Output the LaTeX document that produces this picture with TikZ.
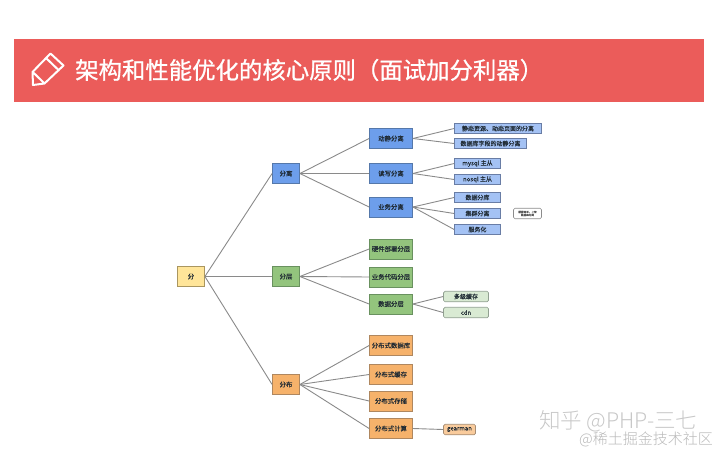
\documentclass[tikz,border=0pt]{standalone}
\usepackage{fontspec}
\setmainfont{Noto Sans CJK SC}[FakeBold=0.1]
\newfontfamily\titlefont[FakeBold=0.9]{Noto Sans CJK SC}
\newfontfamily\wmfont{Noto Sans CJK SC Light}
\definecolor{banner}{HTML}{EB5C5A}
\definecolor{txt}{HTML}{1F2A33}
\definecolor{edgec}{HTML}{8A8A8A}
\tikzset{
  box/.style={draw,line width=0.8pt,inner sep=0pt,text=txt,font=\fontsize{6.4}{7}\selectfont,minimum height=20pt},
  root/.style={box,fill={rgb,255:red,255;green,229;blue,153},draw={rgb,255:red,170;green,150;blue,95},minimum width=27pt},
  blueb/.style={box,fill={rgb,255:red,109;green,158;blue,235},draw={rgb,255:red,85;green,120;blue,170}},
  greenb/.style={box,fill={rgb,255:red,147;green,196;blue,125},draw={rgb,255:red,105;green,145;blue,95}},
  orangeb/.style={box,fill={rgb,255:red,246;green,178;blue,107},draw={rgb,255:red,175;green,135;blue,95}},
  second/.style={minimum width=27pt},
  third/.style={minimum width=43pt},
  leaf/.style={draw,line width=0.7pt,inner sep=0pt,text=txt,font=\fontsize{6}{7}\selectfont,minimum height=10.5pt},
  leafblue/.style={leaf,fill={rgb,255:red,164;green,194;blue,244},draw={rgb,255:red,105;green,125;blue,165}},
  leafgreen/.style={leaf,rounded corners=1.5pt,fill={rgb,255:red,217;green,234;blue,211},draw={rgb,255:red,145;green,160;blue,145},minimum width=45pt},
  leaforange/.style={leaf,rounded corners=1.5pt,fill={rgb,255:red,249;green,203;blue,156},draw={rgb,255:red,165;green,140;blue,115},minimum width=32pt},
  notebox/.style={draw={rgb,255:red,140;green,140;blue,140},line width=0.6pt,rounded corners=1.5pt,fill=white,inner sep=0pt,minimum width=28pt,minimum height=10.5pt,align=center,text={rgb,255:red,90;green,90;blue,90},font=\fontsize{2.6}{3}\selectfont},
  edge/.style={draw=edgec,line width=0.9pt},
  wm/.style={inner sep=0pt,anchor=west,text={rgb,255:red,200;green,200;blue,200}}
}
\begin{document}
\begin{tikzpicture}[x=1pt,y=-1pt]
\useasboundingbox (0,0) rectangle (719,452);
\fill[banner] (14,39) rectangle (704,102);
% pencil icon
\draw[white,line width=2pt,line join=round,line cap=round]
  (50.5,53.5) -- (63.5,65.5) -- (44.5,83.5) -- (33,85) -- (32.5,72) -- cycle
  (46,58) -- (59,70.5)
  (32.8,72) -- (44.5,83.5);
\node[inner sep=0pt,anchor=west,text=white,font=\titlefont\fontsize{23.4}{26}\selectfont] (title) at (75,70) {架构和性能优化的核心原则（面试加分利器）};

\node[root] (r) at (191,276.5) {分};
\node[blueb,second] (a) at (286,173.5) {分离};
\node[greenb,second] (b) at (286,276.5) {分层};
\node[orangeb,second] (c) at (286,384.5) {分布};

\node[blueb,third] (a1) at (391,138.5) {动静分离};
\node[blueb,third] (a2) at (391,173.5) {读写分离};
\node[blueb,third] (a3) at (391,207) {业务分离};
\node[greenb,third] (b1) at (391,249) {硬件部署分层};
\node[greenb,third] (b2) at (391,277) {业务代码分层};
\node[greenb,third] (b3) at (391,304) {数据分层};
\node[orangeb,third] (c1) at (391,345.5) {分布式数据库};
\node[orangeb,third] (c2) at (391,374.5) {分布式缓存};
\node[orangeb,third] (c3) at (391,401) {分布式存储};
\node[orangeb,third] (c4) at (391,428.5) {分布式计算};

\node[leafblue,minimum width=87pt] (l1) at (498,128.5) {静态资源、动态页面的分离};
\node[leafblue,minimum width=72pt] (l2) at (490.5,143.5) {数据库字段的动静分离};
\node[leafblue,minimum width=46pt] (l3) at (477.5,163.5) {mysql 主从};
\node[leafblue,minimum width=46pt] (l4) at (477.5,179.5) {nosql 主从};
\node[leafblue,minimum width=46pt] (l5) at (477.5,197.5) {数据分库};
\node[leafblue,minimum width=46pt] (l6) at (477.5,213.5) {集群分离};
\node[leafblue,minimum width=46pt] (l7) at (477.5,229.5) {服务化};
\node[notebox] (note) at (527.5,213.5) {配置简单，上传\\ 数据库分离};

\node[leafgreen] (g1) at (466,296.5) {多级缓存};
\node[leafgreen] (g2) at (466,312.5) {cdn};
\node[leaforange] (o1) at (459.5,429.5) {gearman};

\foreach \p/\q in {r/a,r/b,r/c,a/a1,a/a2,a/a3,b/b1,b/b2,b/b3,c/c1,c/c2,c/c3,c/c4,a1/l1,a1/l2,a2/l3,a2/l4,a3/l5,a3/l6,a3/l7,b3/g1,b3/g2,c4/o1}
  \draw[edge] (\p.east) -- (\q.west);

\node[wm,font=\wmfont\fontsize{21.5}{23}\selectfont] (wm1) at (539,421) {知乎 @PHP-三七};
\node[wm,text={rgb,255:red,185;green,185;blue,185},font=\wmfont\fontsize{15}{16}\selectfont] (wm2) at (579,439) {@稀土掘金技术社区};
\end{tikzpicture}
\end{document}
